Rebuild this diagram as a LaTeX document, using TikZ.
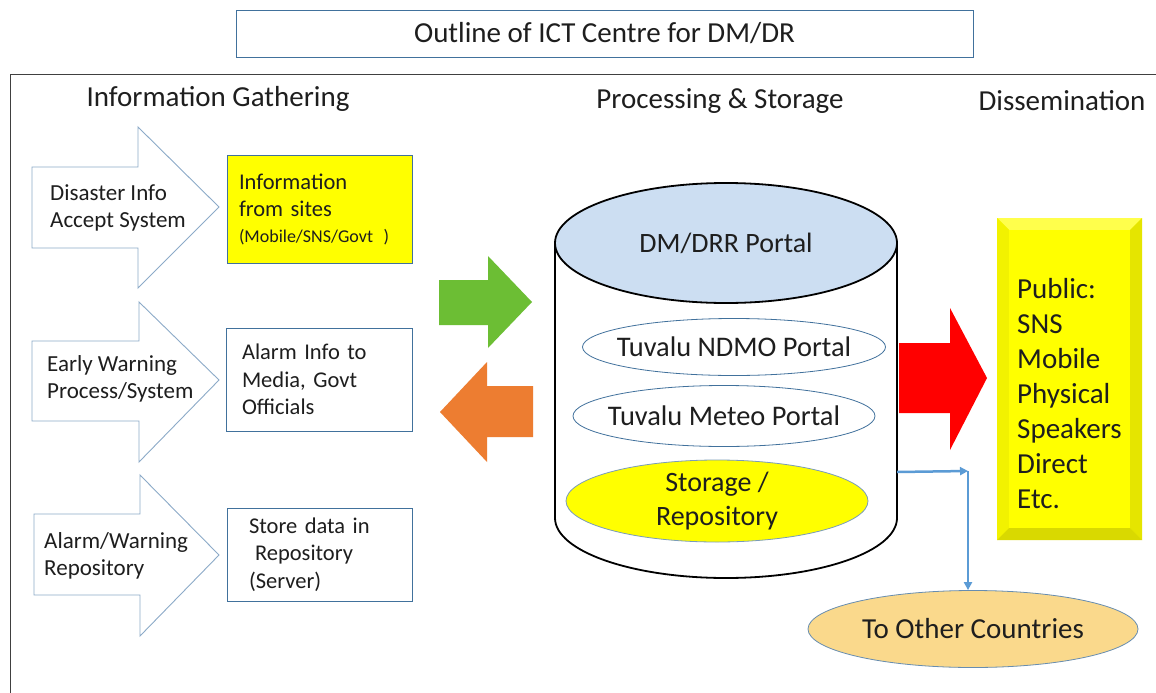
\documentclass[tikz,border=0pt]{standalone}
\usepackage{fontspec}
\setmainfont{Carlito}
\usetikzlibrary{shapes.geometric,arrows.meta}
\definecolor{arrowedge}{RGB}{140,170,200}
\definecolor{boxedge}{RGB}{65,113,156}
\definecolor{txt}{RGB}{30,30,30}
\definecolor{topblue}{RGB}{204,222,242}
\definecolor{ylw}{RGB}{255,255,0}
\definecolor{grn}{RGB}{108,190,52}
\definecolor{org}{RGB}{237,125,49}
\definecolor{lblue}{RGB}{91,155,213}
\definecolor{peach}{RGB}{250,217,140}
\tikzset{
  blockarrow/.style={draw=arrowedge, line width=0.9pt, fill=white},
  arrowtext/.style={anchor=west, align=left, text=txt, font=\fontsize{23}{27.5}\selectfont, inner sep=0pt},
  infobox/.style={draw=boxedge, line width=1pt, text=txt, align=left, font=\fontsize{22.5}{27.5}\selectfont, inner xsep=12pt, inner ysep=0pt},
  header/.style={text=txt, font=\fontsize{29}{32}\selectfont, inner sep=0pt},
  portalshape/.style={draw=boxedge, line width=0.8pt},
  portaltext/.style={text=txt, font=\fontsize{28.4}{34}\selectfont, inner sep=0pt, align=center},
  bluelink/.style={draw=lblue, line width=2.5pt, -{Triangle[length=8pt,width=8pt]}},
}
\begin{document}
\begin{tikzpicture}[x=1pt,y=-1pt]
\useasboundingbox (0,0) rectangle (1156,693);
\fill[white] (0,0) rectangle (1156,693);

% title
\node[draw=boxedge, line width=0.9pt, minimum width=737pt, minimum height=47pt, text=txt, font=\fontsize{29}{32}\selectfont, inner sep=0pt] (title) at (604.5,33.5) {Outline of ICT Centre for DM/DR};

% frame
\draw[line width=1pt, black!75] (10,693) -- (10,74) -- (1156,74);

% headers
\node[header] (hgather) at (218,99) {Information Gathering};
\node[header] (hproc) at (720,101) {Processing \& Storage};
\node[header] (hdiss) at (1062,101) {Dissemination};

% block arrows (left column)
\draw[blockarrow] (32,167) -- (138,167) -- (138,127) -- (219,207) -- (138,288) -- (138,248) -- (32,248) -- cycle;
\draw[blockarrow] (32,341) -- (139,341) -- (139,302) -- (219,380) -- (139,462) -- (139,421) -- (32,421) -- cycle;
\draw[blockarrow] (34,514) -- (140,514) -- (140,475) -- (219,555) -- (140,636) -- (140,595) -- (34,595) -- cycle;
\node[arrowtext] (a1) at (50,208) {Disaster Info\\Accept System};
\node[arrowtext] (a2) at (47,379) {Early Warning\\Process/System};
\node[arrowtext] (a3) at (44,556) {Alarm/Warning\\Repository};

% info boxes
\node[infobox, fill=ylw, minimum width=185pt, minimum height=108pt, text width=161pt] (b1) at (319.5,209)
  {Information\\from sites\\[-2pt]{\fontsize{18}{20}\selectfont (Mobile/SNS/Govt\ \,)}};
\node[infobox, minimum width=186pt, minimum height=103pt, text width=154pt, inner xsep=16pt] (b2) at (319,379.5)
  {Alarm Info to\\Media, Govt\\Officials};
\node[infobox, minimum width=185pt, minimum height=93pt, text width=161pt, inner xsep=10pt] (b3) at (319.5,554.5)
  {\hspace{10pt}Store data in\\\hspace{16pt}Repository\\\hspace{10pt}(Server)};

% green and orange arrows
\fill[grn] (439,280) -- (488,280) -- (488,256) -- (532,302) -- (488,348) -- (488,325) -- (439,325) -- cycle;
\fill[org] (533,386) -- (487,386) -- (487,362) -- (440,412) -- (487,462) -- (487,437) -- (533,437) -- cycle;

% cylinder
\coordinate (cylR) at (897,472);
\filldraw[fill=white, draw=black, line width=1.8pt] (555,243) -- (555,518) arc[start angle=180, end angle=360, x radius=171pt, y radius=60pt] -- (897,243);
\filldraw[fill=topblue, draw=black, line width=1.8pt] (726,243) ellipse [x radius=171pt, y radius=60pt];
\node[portaltext, font=\fontsize{28}{32}\selectfont] (dm) at (726,243) {DM/DRR Portal};

\draw[portalshape] (734,347) ellipse [x radius=151.5pt, y radius=28.5pt];
\node[portaltext] (ndmo) at (734,347) {Tuvalu NDMO Portal};
\draw[portalshape] (724,416) ellipse [x radius=151pt, y radius=30.5pt];
\node[portaltext] (meteo) at (724,416) {Tuvalu Meteo Portal};
\filldraw[portalshape, draw=boxedge!70, fill=ylw] (717,501) ellipse [x radius=151pt, y radius=41pt];
\node[portaltext, font=\fontsize{28}{34}\selectfont] (stor) at (717,501) {Storage /\\Repository};

% red arrow
\fill[red] (899,343) -- (950,343) -- (950,308) -- (987,378) -- (950,450) -- (950,413) -- (899,413) -- cycle;

% public box (bevelled)
\fill[ylw] (997,218) rectangle (1142,540);
\fill[ylw!70!white] (997,218) -- (1142,218) -- (1130,230) -- (1009,230) -- cycle;
\fill[ylw!95!black] (997,218) -- (1009,230) -- (1009,528) -- (997,540) -- cycle;
\fill[ylw!90!black] (1142,218) -- (1142,540) -- (1130,528) -- (1130,230) -- cycle;
\fill[ylw!85!black] (997,540) -- (1142,540) -- (1130,528) -- (1009,528) -- cycle;
\fill[ylw] (1009,230) rectangle (1130,528);
\node[anchor=north west, align=left, text=txt, font=\fontsize{29}{35}\selectfont, inner sep=0pt] (pub) at (1017,278)
  {Public:\\SNS\\Mobile\\Physical\\Speakers\\Direct\\Etc.};

% to other countries
\node[ellipse, draw=boxedge!80, line width=0.8pt, fill=peach, minimum width=330pt, minimum height=77pt, text=txt, font=\fontsize{29}{32}\selectfont, inner sep=0pt] (oc) at (973,629) {To Other Countries};
\coordinate (bj) at (968,471);
\draw[bluelink] (cylR) -- (bj);
\draw[bluelink] (bj) -- (bj |- oc.north);
\end{tikzpicture}
\end{document}
